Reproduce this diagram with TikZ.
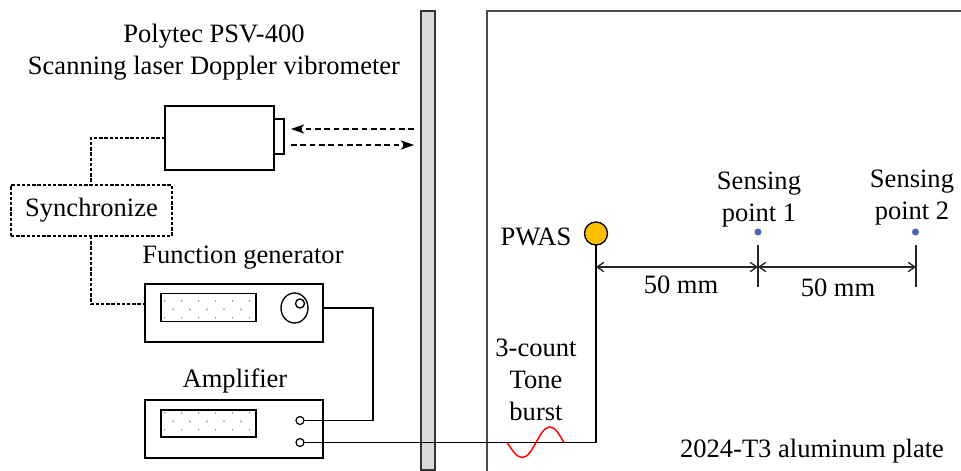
\documentclass[tikz,border=0pt]{standalone}
\usepackage{fontspec}
\setmainfont{Liberation Serif}
\usetikzlibrary{arrows.meta,calc}
\def\px{0.75pt}
\definecolor{barfill}{HTML}{D9D9D9}
\definecolor{pwasfill}{HTML}{FFC000}
\definecolor{dotblue}{HTML}{3F67B5}
\tikzset{
  x=0.75pt,y=-0.75pt,
  lbl/.style={font=\fontsize{19.9}{24}\selectfont,align=center,inner sep=0pt,text=black},
  box/.style={draw=black,line width=1pt,fill=white,inner sep=0pt,outer sep=0pt},
  wire/.style={draw=black,line width=0.95pt},
  syncline/.style={draw=black,line width=0.8pt,dash pattern=on 2.6pt off 1.3pt},
  beam/.style={draw=black,line width=0.9pt,dash pattern=on 4.2pt off 2.8pt,-{Stealth[length=10pt,width=7pt,inset=2.8pt]}},
  dim/.style={draw=black!85,line width=1pt,{Straight Barb[length=5pt,width=7pt]}-{Straight Barb[length=5pt,width=7pt]}},
  tick/.style={draw=black!85,line width=1pt},
  port/.style={circle,draw=black,line width=0.9pt,fill=white,minimum size=8*\px,inner sep=0pt,outer sep=0pt},
  spot/.style={circle,fill=dotblue,minimum size=7*\px,inner sep=0pt},
}
\newcommand{\dotgrid}[2]{%
  \foreach \k in {0,...,5}{\fill[black!45] ({#1+3.6+17*\k},{#2-8.4}) circle (0.85);\fill[black!45] ({#1+3.6+17*\k},{#2+8.4}) circle (0.85);}
  \foreach \k in {0,...,4}{\fill[black!45] ({#1+12+17*\k},{#2}) circle (0.85);}
}
\begin{document}
\begin{tikzpicture}
\useasboundingbox (0,0) rectangle (961,471);
\fill[white] (0,0) rectangle (961,471);
% plate and wall
\coordinate (plateTR) at (961,11);
\coordinate (plateTL) at (487,11);
\coordinate (plateBL) at (487,471);
\draw[draw=black!70,line width=1.1pt] (plateTR) -- (plateTL) -- (plateBL);
\node[draw=black!80,line width=1pt,fill=barfill,minimum width=14*\px,minimum height=459*\px,inner sep=0pt,outer sep=0pt] (wall) at (428,240.5) {};
% vibrometer
\node[box,minimum width=109*\px,minimum height=64*\px] (laser) at (219.5,138) {};
\node[box,minimum width=10*\px,minimum height=35*\px,anchor=west] (lens) at (laser.east |- 0,136.5) {};
\node[lbl] (title) at (214,52) {Polytec PSV-400\\Scanning laser Doppler vibrometer};
% synchronize
\node[draw=black,line width=0.8pt,dash pattern=on 2.6pt off 1.3pt,fill=white,minimum width=161*\px,minimum height=51*\px,inner sep=0pt,font=\fontsize{19.9}{24}\selectfont,outer sep=0pt] (sync) at (91.5,210.5) {\raisebox{-2pt}{Synchronize}};
% function generator
\node[lbl] (fglabel) at (243,258) {Function generator};
\node[box,minimum width=178*\px,minimum height=58*\px] (fg) at (234,313) {};
\node[box,minimum width=95*\px,minimum height=27.5*\px] (fgscreen) at (208.5,307.5) {};
\dotgrid{161}{309.3}
\draw[line width=1pt] (294.5,308) circle [x radius=13.5,y radius=15];
\node[circle,draw=black,line width=1pt,minimum size=9*\px,inner sep=0pt] (knob) at (300,303.5) {};
% amplifier
\node[lbl] (amplabel) at (235,381) {Amplifier};
\node[box,minimum width=178*\px,minimum height=58*\px] (amp) at (234,429) {};
\node[box,minimum width=95*\px,minimum height=27*\px] (ampscreen) at (208.5,423.5) {};
\dotgrid{161}{421.3}
\node[port] (portA) at (300,420.5) {};
\node[port] (portB) at (300,442.5) {};
% PWAS
\node[circle,draw=black,line width=1pt,fill=pwasfill,minimum size=23*\px,inner sep=0pt,outer sep=0pt] (pwas) at (596,233.5) {};
\node[lbl] (pwaslabel) at (536,237) {PWAS};
\node[lbl] (s1label) at (759,200) {Sensing\\point 1};
\node[lbl] (s2label) at (912,198) {Sensing\\point 2};
\node[spot] (s1) at (758,232) {};
\node[spot] (s2) at (915.5,232) {};
% ticks
\coordinate (t1a) at (758,245); \coordinate (t1b) at (758,287);
\coordinate (t2a) at (916,245); \coordinate (t2b) at (916,287);
\draw[tick] (t1a) -- (t1b);
\draw[tick] (t2a) -- (t2b);
% wiring
\coordinate (fgout) at (323,308);
\coordinate (corner1) at (373,308);
\coordinate (corner2) at (373,420.5);
\draw[wire] (fgout) -- (corner1) -- (corner2) -- (portA.east);
\draw[wire] (portB.east) -- (portB.east -| pwas.south) -- (pwas.south);
% sine
\draw[draw=red,line width=1.1pt] (507,442.5) .. controls (513,451) and (517,457.5) .. (522,457.5) .. controls (528,457.5) and (532,449.5) .. (536,442.5) .. controls (540,435.5) and (544,427) .. (550,427) .. controls (555,427) and (559,434) .. (564,442.5);
% dimensions
\coordinate (d0) at (596,267); \coordinate (d1) at (758,267); \coordinate (d2) at (916,267);
\draw[dim] (d0) -- (d1);
\draw[dim] (d1) -- (d2);
\node[lbl] (d1label) at (681,285) {50 mm};
\node[lbl] (d2label) at (838,288) {50 mm};
% beams
\coordinate (b1a) at (414,129); \coordinate (b1b) at (291,129);
\coordinate (b2a) at (291,145); \coordinate (b2b) at (414,145);
\draw[beam] (b1a) -- (b1b);
\draw[beam] (b2a) -- (b2b);
% synchronize lines
\coordinate (sl1) at (91,138);
\coordinate (sl2) at (91,304);
\draw[syncline] (laser.west) -- (sl1) -- (sl1 |- sync.north);
\draw[syncline] (sl2 |- sync.south) -- (sl2) -- (fg.west |- sl2);
% labels
\node[lbl] (burst) at (536,380) {3-count\\Tone\\burst};
\node[lbl] (plate) at (812,451) {2024-T3 aluminum plate};
\end{tikzpicture}
\end{document}
